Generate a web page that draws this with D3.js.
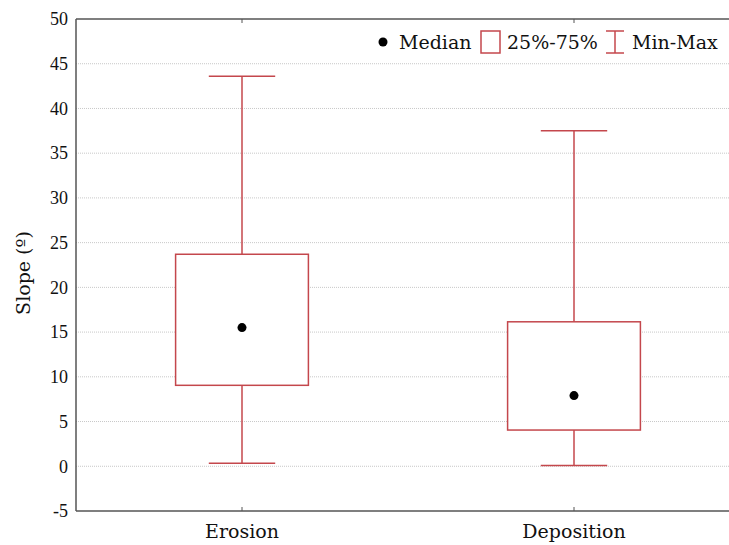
<!DOCTYPE html>
<html>
<head>
<meta charset="utf-8">
<script src="https://cdn.jsdelivr.net/npm/d3@7"></script>
<style>
  body { margin: 0; background: #fff; }
  svg text { font-family: "Palatino Linotype", "Book Antiqua", Palatino, "DejaVu Serif", serif; fill: #111; }
</style>
</head>
<body>
<div id="chart"></div>
<script>
// Box plot - slope by process
const categories = ["Erosion", "Deposition"];
const minVals = [0.35, 0.1];
const q1Vals = [9.05, 4.05];
const medianVals = [15.5, 7.9];
const q3Vals = [23.7, 16.15];
const maxVals = [43.6, 37.5];
const yTicks = [-5, 0, 5, 10, 15, 20, 25, 30, 35, 40, 45, 50];

const W = 729, H = 545;
const margin = { top: 19, right: -11, bottom: 34, left: 76 };
const red = "#c4474c";

const svg = d3.select("#chart")
    .append("svg")
    .attr("width", W)
    .attr("height", H);

const x = d3.scaleBand()
    .domain(categories)
    .range([margin.left, W - margin.right]);

const y = d3.scaleLinear()
    .domain([-5, 50])
    .range([H - margin.bottom, margin.top]);

// Grid lines
svg.selectAll(".grid")
    .data(yTicks.filter(t => t > -5 && t < 50))
    .enter()
    .append("line")
    .attr("x1", margin.left)
    .attr("x2", W)
    .attr("y1", d => y(d))
    .attr("y2", d => y(d))
    .attr("stroke", "#c8c8c8")
    .attr("stroke-width", 1)
    .attr("stroke-dasharray", "1,1");

// Y axis labels (plain hyphen for negatives, like the original)
const yAxis = d3.axisLeft(y).tickValues(yTicks).tickFormat(d => String(d)).tickSize(0).tickPadding(8);
const gy = svg.append("g")
    .attr("transform", `translate(${margin.left},0)`)
    .call(yAxis);
gy.select(".domain").remove();
gy.selectAll("text").style("font-size", "18px").style("font-family", "Liberation Serif, serif");

// X axis labels
const xAxis = d3.axisBottom(x).tickSize(0).tickPadding(14);
const gx = svg.append("g")
    .attr("transform", `translate(0,${y(-5)})`)
    .call(xAxis);
gx.select(".domain").remove();
gx.selectAll("text").style("font-size", "19px");

// Frame
const frame = svg.append("g").attr("stroke", "#555").attr("stroke-width", 1.5);
frame.append("line").attr("x1", margin.left).attr("x2", W).attr("y1", y(-5)).attr("y2", y(-5));
frame.append("line").attr("x1", margin.left).attr("x2", W).attr("y1", y(50)).attr("y2", y(50));
frame.append("line").attr("x1", margin.left).attr("x2", margin.left).attr("y1", y(50)).attr("y2", y(-5));

// Inward category ticks on bottom and top
categories.forEach(c => {
    const cx = x(c) + x.bandwidth() / 2;
    frame.append("line").attr("x1", cx).attr("x2", cx).attr("y1", y(-5)).attr("y2", y(-5) - 4).attr("stroke-width", 1);
    frame.append("line").attr("x1", cx).attr("x2", cx).attr("y1", y(50)).attr("y2", y(50) + 4).attr("stroke-width", 1);
});

// Boxes
const boxW = x.bandwidth() * 0.4;
const capW = x.bandwidth() * 0.2;

categories.forEach((c, i) => {
    const cx = x(c) + x.bandwidth() / 2;
    const g = svg.append("g").attr("stroke", red).attr("stroke-width", 1.5).attr("fill", "none");

    // whiskers
    g.append("line").attr("x1", cx).attr("x2", cx).attr("y1", y(maxVals[i])).attr("y2", y(q3Vals[i]));
    g.append("line").attr("x1", cx).attr("x2", cx).attr("y1", y(q1Vals[i])).attr("y2", y(minVals[i]));
    g.append("line").attr("x1", cx - capW / 2).attr("x2", cx + capW / 2).attr("y1", y(maxVals[i])).attr("y2", y(maxVals[i]));
    g.append("line").attr("x1", cx - capW / 2).attr("x2", cx + capW / 2).attr("y1", y(minVals[i])).attr("y2", y(minVals[i]));

    // box
    g.append("rect")
        .attr("x", cx - boxW / 2)
        .attr("y", y(q3Vals[i]))
        .attr("width", boxW)
        .attr("height", y(q1Vals[i]) - y(q3Vals[i]))
        .attr("fill", "#fff");

    svg.append("circle")
        .attr("cx", cx)
        .attr("cy", y(medianVals[i]))
        .attr("r", 4.5)
        .attr("fill", "#000");
});

// Y axis title
svg.append("text")
    .attr("transform", `translate(30,${(y(50) + y(-5)) / 2 + 8}) rotate(-90)`)
    .attr("text-anchor", "middle")
    .style("font-size", "19px")
    .text("Slope (º)");

// Legend
const leg = svg.append("g").attr("transform", "translate(0,42)");
leg.append("circle").attr("cx", 383).attr("cy", 0).attr("r", 4.5).attr("fill", "#000");
leg.append("text").attr("x", 399).attr("y", 7).style("font-size", "19px").text("Median");
leg.append("rect").attr("x", 481).attr("y", -11).attr("width", 19).attr("height", 22)
    .attr("fill", "none").attr("stroke", red).attr("stroke-width", 1.5);
leg.append("text").attr("x", 507).attr("y", 7).style("font-size", "19px").text("25%-75%");
const mm = leg.append("g").attr("stroke", red).attr("stroke-width", 1.5);
mm.append("line").attr("x1", 606).attr("x2", 624).attr("y1", -11).attr("y2", -11);
mm.append("line").attr("x1", 606).attr("x2", 624).attr("y1", 11).attr("y2", 11);
mm.append("line").attr("x1", 615).attr("x2", 615).attr("y1", -11).attr("y2", 11);
leg.append("text").attr("x", 632).attr("y", 7).style("font-size", "19px").text("Min-Max");
</script>
</body>
</html>
